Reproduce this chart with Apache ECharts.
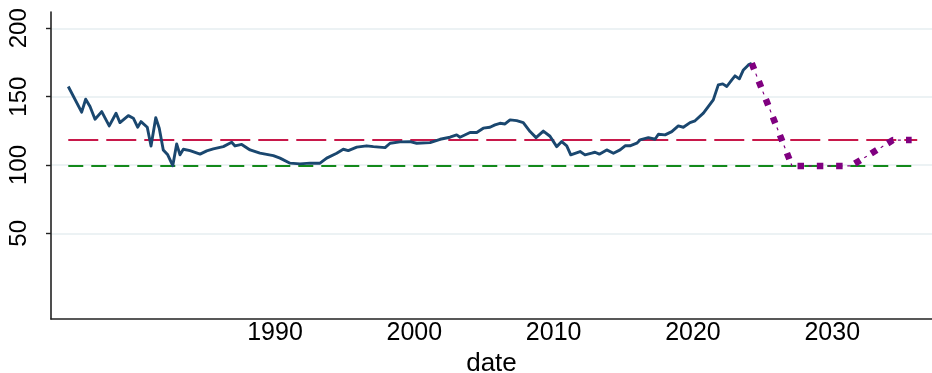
<!DOCTYPE html>
<html>
<head>
<meta charset="utf-8">
<script src="https://cdn.jsdelivr.net/npm/echarts@6/dist/echarts.min.js"></script>
<style>
  html, body { margin: 0; padding: 0; background: #fff; }
  #chart { width: 932px; height: 373px; }
</style>
</head>
<body>
<div id="chart"></div>
<script>
// index level over time (quarterly) + projection path + two reference levels
const histDates = [
  1975.16, 1976.12, 1976.41, 1976.72, 1977.08, 1977.56, 1978.10, 1978.59, 1978.87, 1979.47,
  1979.83, 1980.14, 1980.38, 1980.83, 1981.10, 1981.44, 1981.69, 1981.98, 1982.30, 1982.66,
  1982.94, 1983.18, 1983.42, 1983.90, 1984.62, 1985.10, 1985.57, 1986.29, 1986.89, 1987.13,
  1987.61, 1988.21, 1988.92, 1989.88, 1990.36, 1991.08, 1991.79, 1992.51, 1993.23, 1993.71,
  1994.43, 1994.90, 1995.26, 1995.87, 1996.58, 1997.06, 1997.90, 1998.26, 1998.97, 1999.69,
  2000.17, 2001.13, 2001.85, 2002.56, 2003.04, 2003.28, 2004.00, 2004.48, 2004.95, 2005.43,
  2005.79, 2006.15, 2006.51, 2006.87, 2007.35, 2007.82, 2008.31, 2008.74, 2009.26, 2009.74,
  2010.22, 2010.58, 2010.94, 2011.23, 2011.90, 2012.25, 2012.73, 2012.97, 2013.28, 2013.81,
  2014.29, 2014.77, 2015.13, 2015.48, 2015.97, 2016.20, 2016.80, 2017.28, 2017.52, 2018.00,
  2018.48, 2018.95, 2019.31, 2019.79, 2020.15, 2020.75, 2021.46, 2021.82, 2022.14, 2022.43,
  2022.79, 2023.02, 2023.33, 2023.62, 2023.98, 2024.22
];
const histValues = [
  157.4, 138.6, 148.1, 142.7, 133.5, 139.0, 128.6, 137.8, 131.0, 136.1,
  134.2, 127.6, 131.7, 127.6, 113.9, 134.6, 126.9, 111.0, 107.4, 99.5,
  115.4, 107.4, 111.5, 110.5, 107.9, 110.3, 111.7, 113.4, 116.6, 113.9,
  115.0, 111.0, 108.6, 106.8, 105.0, 101.3, 100.8, 101.3, 101.3, 105.0,
  108.6, 111.5, 110.5, 113.0, 114.0, 113.4, 112.7, 115.9, 116.9, 117.1,
  115.9, 116.3, 118.8, 120.3, 122.0, 120.3, 123.7, 123.7, 126.9, 127.6,
  129.3, 130.5, 130.0, 133.0, 132.4, 131.0, 124.4, 120.0, 124.8, 121.0,
  113.4, 117.1, 114.0, 107.4, 109.8, 107.4, 108.6, 109.3, 107.9, 111.0,
  108.6, 111.0, 114.0, 114.0, 115.9, 118.3, 120.0, 118.8, 122.5, 122.0,
  124.4, 128.6, 127.6, 131.0, 132.3, 137.9, 147.6, 158.6, 159.3, 157.4,
  162.3, 165.2, 163.0, 169.5, 173.2, 174.4
];
const projDates = [2024.22, 2027.11, 2031.35, 2034.36, 2035.70];
const projValues = [174.4, 99.3, 99.3, 118.2, 118.2];
const refStart = 1975.16;
const highLevel = 118.3, highEnd = 2036.1;
const lowLevel = 99.3, lowEnd = 2035.8;
const xTicks = [1990, 2000, 2010, 2020, 2030];
const yTicks = [50, 100, 150, 200];

const zip = (xs, ys) => xs.map((x, i) => [x, ys[i]]);
const FONT = "'Liberation Sans', Arial, sans-serif";

const chart = echarts.init(document.getElementById("chart"), null, { renderer: "canvas" });
chart.setOption({
  backgroundColor: "#fff",
  animation: false,
  grid: { left: 51, right: 0, top: 12, bottom: 54, outerBoundsMode: "none", containLabel: false },
  xAxis: {
    type: "value", min: 1973.92, max: 2037.16,
    name: "date", nameLocation: "middle", nameGap: 31,
    nameTextStyle: { fontFamily: FONT, fontSize: 26, color: "#000" },
    axisLine: { show: true, onZero: false, lineStyle: { color: "#222", width: 1.6 } },
    axisTick: { show: false },
    axisLabel: {
      customValues: xTicks, formatter: v => String(v),
      fontFamily: FONT, fontSize: 25, color: "#000", margin: 2,
    },
    splitLine: { show: false },
  },
  yAxis: {
    type: "value", min: -12.7, max: 211.9,
    axisLine: { show: true, onZero: false, lineStyle: { color: "#222", width: 1.6 } },
    axisTick: { show: true, customValues: yTicks, length: 5, lineStyle: { color: "#222", width: 1.4 } },
    axisLabel: {
      customValues: yTicks, formatter: v => String(v), rotate: 90,
      fontFamily: FONT, fontSize: 24, color: "#000", margin: 20,
    },
    splitLine: { show: true, lineStyle: { color: "#e6eef0", width: 1.6 } },
  },
  series: [
    {
      name: "high", type: "line", data: [[refStart, highLevel], [highEnd, highLevel]],
      showSymbol: false, silent: true,
      lineStyle: { color: "#c8184a", width: 2, type: [30, 8] },
    },
    {
      name: "low", type: "line", data: [[refStart, lowLevel], [lowEnd, lowLevel]],
      showSymbol: false, silent: true,
      lineStyle: { color: "#13891a", width: 2, type: [15, 8] },
    },
    {
      name: "index", type: "line", data: zip(histDates, histValues),
      showSymbol: false, silent: true,
      lineStyle: { color: "#1a476f", width: 2.9, join: "round" },
    },
    {
      name: "projection thin", type: "line", data: zip(projDates, projValues),
      showSymbol: false, silent: true,
      lineStyle: { color: "#800080", width: 1.2, type: [3, 16.3], dashOffset: 8.15 },
    },
    {
      name: "projection", type: "line", data: zip(projDates, projValues),
      showSymbol: false, silent: true,
      lineStyle: { color: "#800080", width: 6.5, type: [6.5, 12.8], cap: "butt" },
    },
  ],
});
</script>
</body>
</html>
